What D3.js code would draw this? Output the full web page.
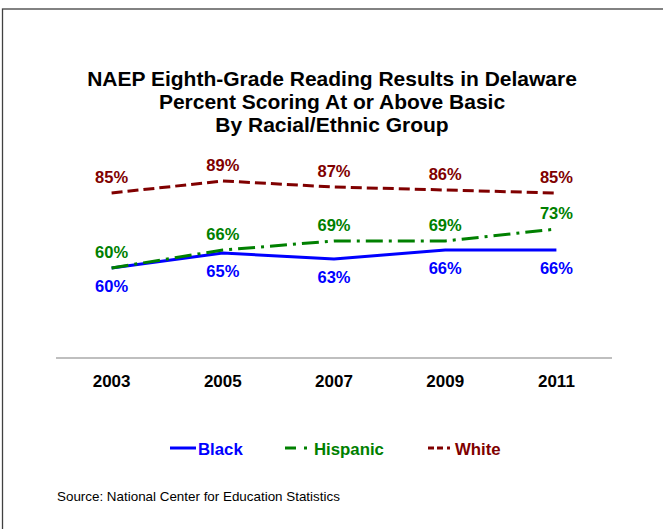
<!DOCTYPE html>
<html>
<head>
<meta charset="utf-8">
<script src="https://cdn.jsdelivr.net/npm/d3@7"></script>
<style>
  html, body { margin: 0; padding: 0; background: #fff; }
  svg { display: block; }
  text { font-family: "Liberation Sans", Arial, sans-serif; }
</style>
</head>
<body>
<svg id="chart" width="663" height="529"></svg>
<script>
const years = ["2003", "2005", "2007", "2009", "2011"];
const black = [60, 65, 63, 66, 66];
const hispanic = [60, 66, 69, 69, 73];
const white = [85, 89, 87, 86, 85];
const titleLines = [
  "NAEP Eighth-Grade Reading Results in Delaware",
  "Percent Scoring At or Above Basic",
  "By Racial/Ethnic Group"
];
const sourceText = "Source: National Center for Education Statistics";

const seriesDefs = [
  { name: "Black", values: black, color: "#0000ff", dash: null, labelPos: "below" },
  { name: "Hispanic", values: hispanic, color: "#008000", dash: "17,6,3,6", labelPos: "above" },
  { name: "White", values: white, color: "#800000", dash: "11,5", labelPos: "above" }
];

const svg = d3.select("#chart");

// frame (top and left edges visible)
svg.append("rect")
  .attr("x", 2.5).attr("y", 9)
  .attr("width", 720).attr("height", 600)
  .attr("fill", "none").attr("stroke", "#404040").attr("stroke-width", 1.3);

// title
svg.append("g").selectAll("text").data(titleLines).join("text")
  .attr("x", 332)
  .attr("y", (d, i) => 85.5 + i * 23)
  .attr("text-anchor", "middle")
  .attr("font-size", 21)
  .attr("font-weight", "bold")
  .attr("fill", "#000")
  .text(d => d);

const x = d3.scaleBand().domain(years).range([56, 612]).padding(0);
const y = d3.scaleLinear().domain([30, 100]).range([358, 148]);
const cx = d => x(d) + x.bandwidth() / 2;

// x axis
const xAxis = d3.axisBottom(x).tickSize(0).tickPadding(0);
const gx = svg.append("g").attr("transform", `translate(0,${y(30)})`).call(xAxis);
gx.select(".domain").attr("stroke", "#808080").attr("stroke-width", 1.2).attr("d", `M${x.range()[0]},0H${x.range()[1]}`);
gx.selectAll(".tick text")
  .attr("y", 29).attr("dy", null)
  .attr("font-size", 17).attr("font-weight", "bold")
  .attr("font-family", "'Liberation Sans', Arial, sans-serif")
  .attr("fill", "#000");

// lines
const line = d3.line().x(d => cx(d.year)).y(d => y(d.value));
seriesDefs.forEach(s => {
  const pts = years.map((yr, i) => ({ year: yr, value: s.values[i] }));
  svg.append("path")
    .datum(pts)
    .attr("d", line)
    .attr("fill", "none")
    .attr("stroke", s.color)
    .attr("stroke-width", 3)
    .attr("stroke-dasharray", s.dash);
});

// labels
seriesDefs.forEach(s => {
  const pts = years.map((yr, i) => ({ year: yr, value: s.values[i] }));
  svg.append("g").selectAll("text").data(pts).join("text")
    .attr("x", d => cx(d.year))
    .attr("y", d => y(d.value) + (s.labelPos === "above" ? -10 : 24))
    .attr("text-anchor", "middle")
    .attr("font-size", 16.5)
    .attr("font-weight", "bold")
    .attr("fill", s.color)
    .text(d => d.value + "%");
});

// legend
const legendItems = [
  { s: seriesDefs[0], x1: 170, x2: 196, dash: null, tx: 198 },
  { s: seriesDefs[1], x1: 285, x2: 308, dash: "11,8,3,100", tx: 314 },
  { s: seriesDefs[2], x1: 428, x2: 451, dash: "6,3,6,4,3,100", tx: 455 }
];
const lg = svg.append("g");
legendItems.forEach(it => {
  lg.append("line")
    .attr("x1", it.x1).attr("x2", it.x2)
    .attr("y1", 448).attr("y2", 448)
    .attr("stroke", it.s.color).attr("stroke-width", 3)
    .attr("stroke-dasharray", it.dash);
  lg.append("text")
    .attr("x", it.tx).attr("y", 455)
    .attr("font-size", 16.8).attr("font-weight", "bold")
    .attr("fill", it.s.color)
    .text(it.s.name);
});

// source
svg.append("text")
  .attr("x", 57).attr("y", 501)
  .attr("font-size", 13.4)
  .attr("fill", "#000")
  .text(sourceText);
</script>
</body>
</html>
